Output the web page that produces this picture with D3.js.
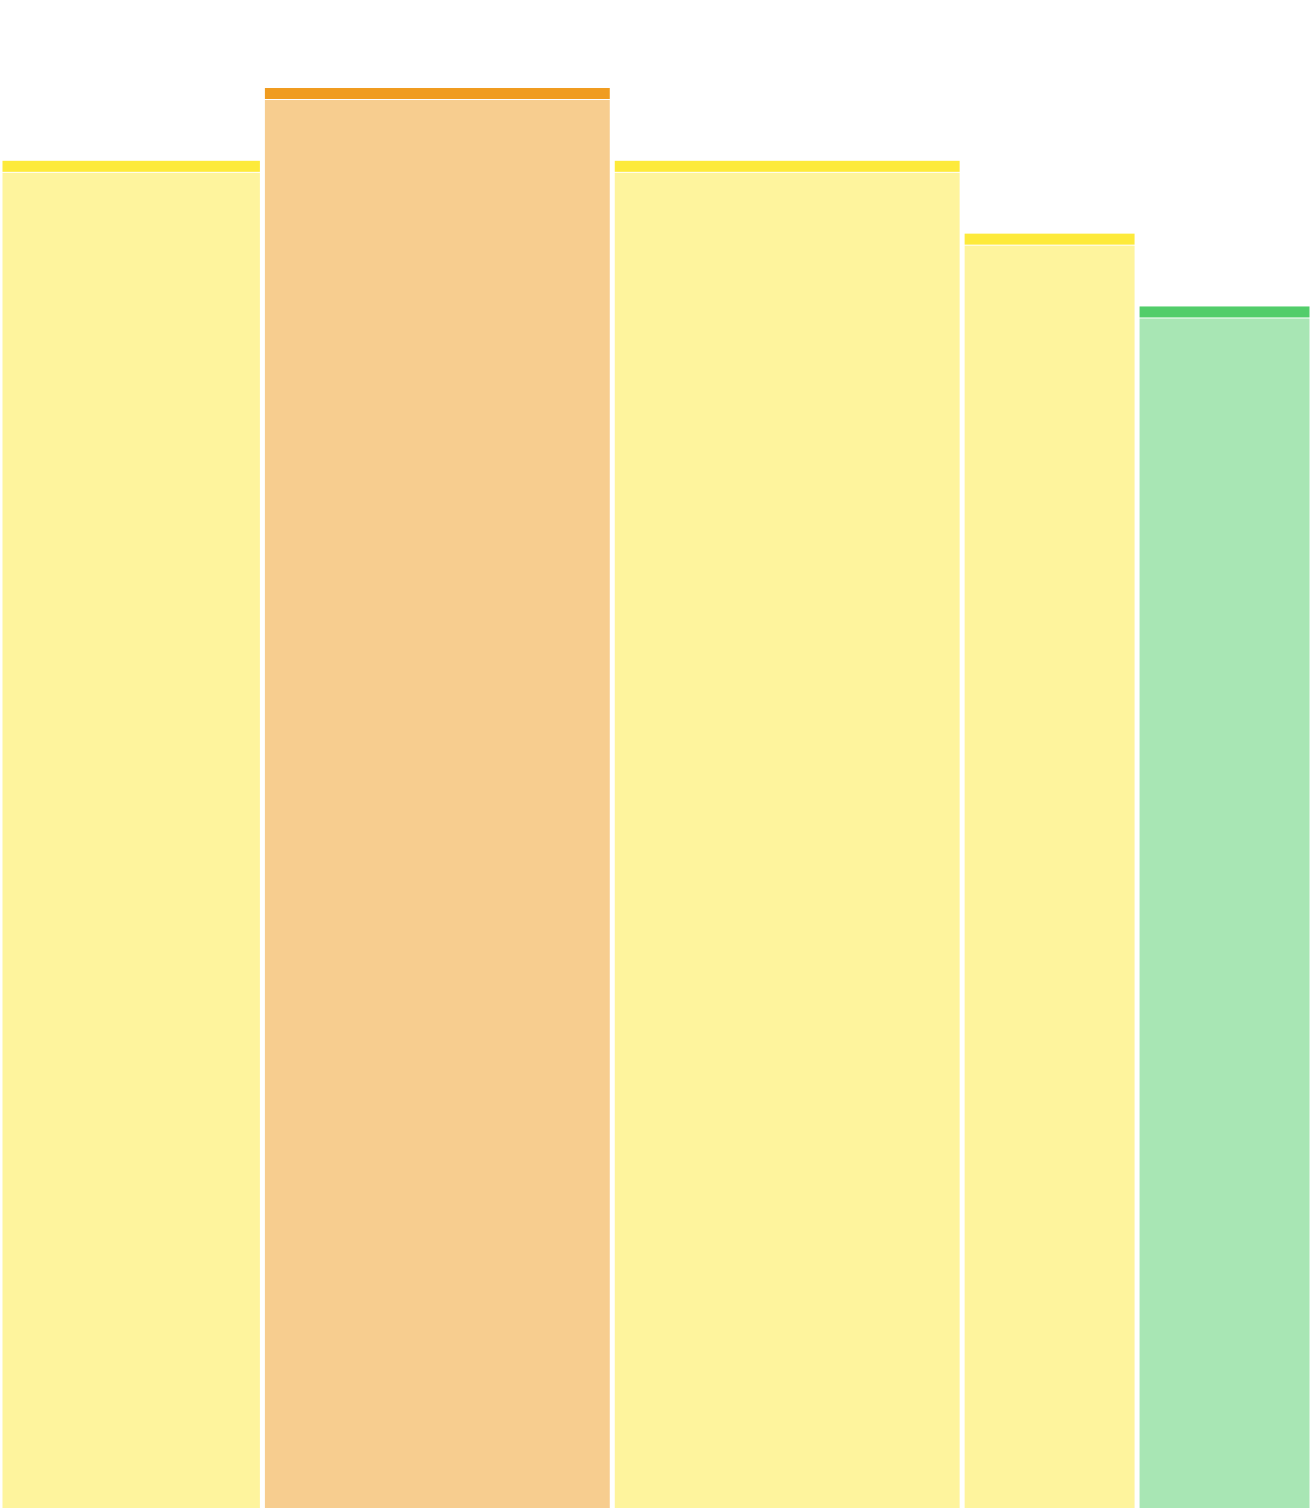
<!DOCTYPE html>
<html>
<head>
<meta charset="utf-8">
<script src="https://cdn.jsdelivr.net/npm/d3@7"></script>
<style>
  html, body { margin: 0; padding: 0; background: #fff; }
  svg { display: block; }
</style>
</head>
<body>
<svg id="chart" width="1312" height="1508"></svg>
<script>
const categories = ["A", "B", "C", "D", "E"];
const widths = [1.5, 2, 2, 1, 1];
const values = [18.5, 19.5, 18.5, 17.5, 16.5];
const groups = ["yellow", "orange", "yellow", "yellow", "green"];

const width = 1312;
const height = 1508;
const pad = 2.5;      // half the white gap between bars
const header = 11;    // darker strip on top of each bar

const color = d3.scaleOrdinal()
    .domain(["yellow", "orange", "green"])
    .range(["#fdea3b", "#f09c20", "#52cd6a"]);

// cumulative x offsets for the variable width bars
let acc = 0;
const bars = categories.map((c, i) => {
    const b = {name: c, x0: acc, x1: acc + widths[i], value: values[i], group: groups[i]};
    acc += widths[i];
    return b;
});

const x = d3.scaleLinear()
    .domain([0, d3.sum(widths)])
    .range([0, width]);

const y = d3.scaleLinear()
    .domain([0, d3.max(values)])
    .range([height, 88]);

const svg = d3.select("#chart");

const g = svg.selectAll(".bar")
    .data(bars)
    .enter().append("g")
    .attr("class", "bar");

// light body
g.append("rect")
    .attr("x", d => x(d.x0) + pad)
    .attr("width", d => x(d.x1) - x(d.x0) - 2 * pad)
    .attr("y", d => y(d.value) + header + 1)
    .attr("height", d => height - y(d.value) - header - 1)
    .attr("fill", d => color(d.group))
    .attr("fill-opacity", 0.5);

// header strip
g.append("rect")
    .attr("x", d => x(d.x0) + pad)
    .attr("width", d => x(d.x1) - x(d.x0) - 2 * pad)
    .attr("y", d => y(d.value))
    .attr("height", header)
    .attr("fill", d => color(d.group));
</script>
</body>
</html>
